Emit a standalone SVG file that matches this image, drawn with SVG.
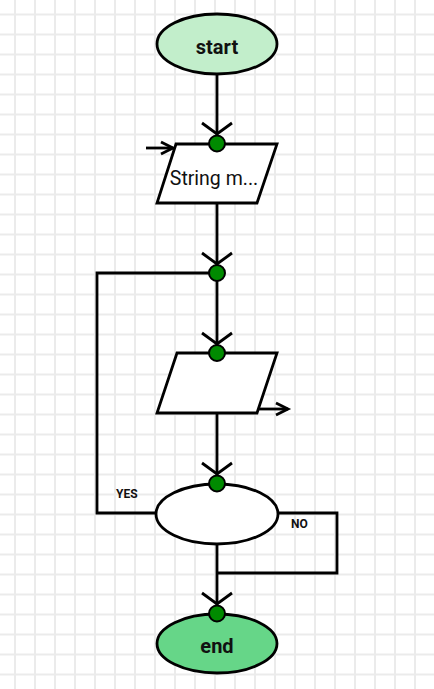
<svg xmlns="http://www.w3.org/2000/svg" width="434" height="689" viewBox="0 0 434 689">
<defs>
<pattern id="grid" x="0" y="0" width="20" height="20" patternUnits="userSpaceOnUse">
<rect x="14" y="0" width="2" height="20" fill="#ebebeb"/>
<rect x="0" y="13.5" width="20" height="2" fill="#ebebeb"/>
</pattern>
</defs>
<style>
.shape{stroke:#000;stroke-width:2.8}
.dot{fill:#008a00;stroke:#000;stroke-width:2}
.conn{fill:none;stroke:#000;stroke-width:2.8}
.lbl{font-family:Roboto,"Liberation Sans",sans-serif;fill:#111}
.big{font-size:20px;font-weight:bold}
.small{font-size:12px;font-weight:bold}
</style>
<rect width="434" height="689" fill="#fff"/>
<rect width="434" height="689" fill="url(#grid)"/>

<g id="connectors">
<line class="conn" x1="217" y1="74" x2="217" y2="143"/>
<path class="conn" d="M202,123 L217,134 L232,123"/>
<line class="conn" x1="146" y1="148" x2="173" y2="148"/>
<path class="conn" d="M161,142 L173,148 L161,154"/>
<line class="conn" x1="217" y1="203" x2="217" y2="273"/>
<path class="conn" d="M202,253 L217,264 L232,253"/>
<polyline class="conn" points="217,273 97,273 97,513 156,513"/>
<line class="conn" x1="217" y1="273" x2="217" y2="353"/>
<path class="conn" d="M202,333 L217,344 L232,333"/>
<line class="conn" x1="257" y1="409" x2="288" y2="409"/>
<path class="conn" d="M276,403 L288,409 L276,415"/>
<line class="conn" x1="217" y1="413" x2="217" y2="483"/>
<path class="conn" d="M202,463 L217,474 L232,463"/>
<polyline class="conn" points="278,513 337,513 337,573 217,573"/>
<line class="conn" x1="217" y1="544" x2="217" y2="613"/>
<path class="conn" d="M202,593 L217,604 L232,593"/>
<text class="lbl small" x="116" y="498">YES</text>
<text class="lbl small" x="291" y="528">NO</text>
</g>

<g id="start">
<ellipse class="shape" cx="217" cy="44" rx="60" ry="30" fill="#c2eecb"/>
<text class="lbl big" x="217" y="54" text-anchor="middle">start</text>
</g>

<g id="input">
<polygon class="shape" points="176,144 277,144 257,203 157,203" fill="#fff"/>
<text class="lbl" x="214" y="185" font-size="19.5" text-anchor="middle">String m...</text>
<circle class="dot" cx="217" cy="143.5" r="8"/>
</g>

<g id="junction">
<circle class="dot" cx="217" cy="273" r="8"/>
</g>

<g id="output">
<polygon class="shape" points="177,353 277,353 257,413 157,413" fill="#fff"/>
<circle class="dot" cx="217" cy="353" r="8"/>
</g>

<g id="decision">
<ellipse class="shape" cx="217" cy="514" rx="61" ry="30" fill="#fff"/>
<circle class="dot" cx="217" cy="483.5" r="8"/>
</g>

<g id="end">
<ellipse class="shape" cx="217" cy="643.5" rx="60" ry="29.5" fill="#66d688"/>
<text class="lbl big" x="217" y="653" text-anchor="middle">end</text>
<circle class="dot" cx="217" cy="613.5" r="8"/>
</g>
</svg>
